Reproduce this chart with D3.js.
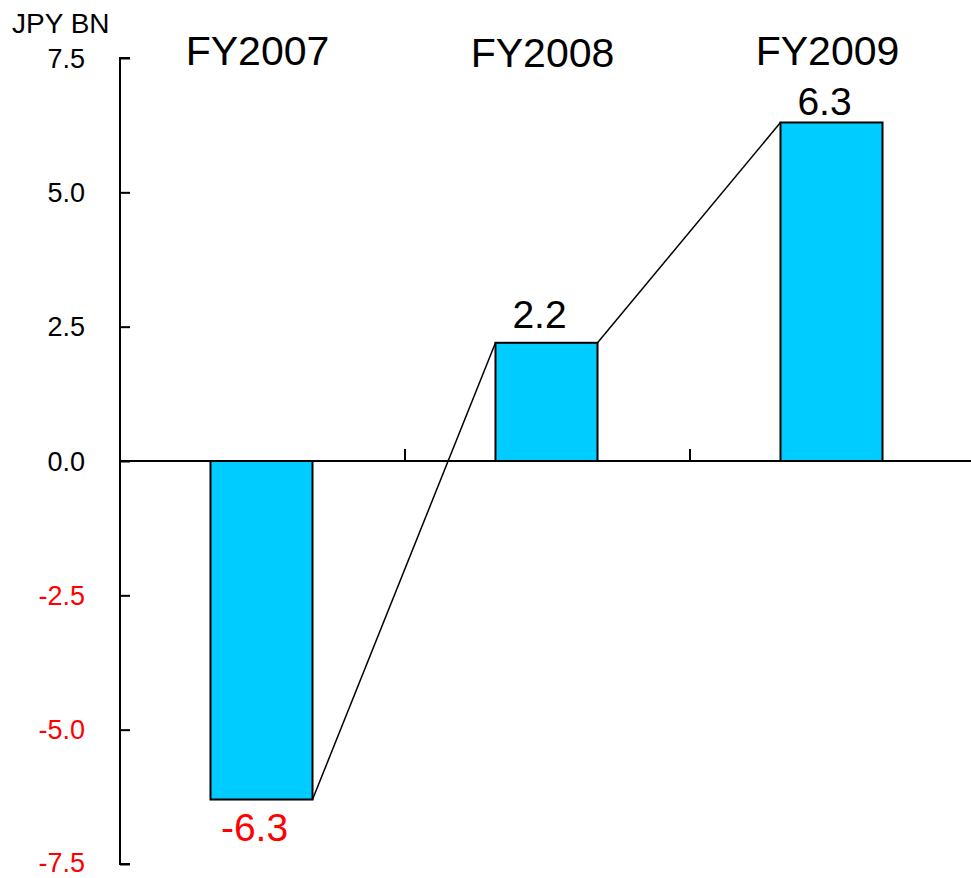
<!DOCTYPE html>
<html>
<head>
<meta charset="utf-8">
<script src="https://cdn.jsdelivr.net/npm/d3@7"></script>
<style>
  html, body { margin: 0; padding: 0; background: #fff; }
  svg { display: block; font-family: "Liberation Sans", Arial, sans-serif; }
</style>
</head>
<body>
<svg id="chart" width="971" height="878"></svg>
<script>
// Operating income by fiscal year (JPY billions)
const categories = ["FY2007", "FY2008", "FY2009"];
const values = [-6.3, 2.2, 6.3];
const yTicks = [-7.5, -5.0, -2.5, 0.0, 2.5, 5.0, 7.5];
const unitLabel = "JPY BN";

const svg = d3.select("#chart");
const W = 971, H = 878;
const axisX = 120;

// one decimal, plain hyphen for negatives
const fmt = v => d3.format(".1f")(v).replace("\u2212", "-");

const x = d3.scaleBand().domain(categories).range([axisX, 975]).padding(0);
const y = d3.scaleLinear().domain([-7.5, 7.5]).range([864, 58]);

const barW = x.bandwidth() * 0.358;
const barX = d => x(d.cat) + x.bandwidth() / 2 - barW / 2 - 1;

const data = categories.map((c, i) => ({ cat: c, v: values[i] }));

// Y axis: line with inward ticks
const yAxis = d3.axisRight(y).tickValues(yTicks).tickSize(10).tickFormat("");
const gy = svg.append("g").attr("transform", `translate(${axisX},0)`).call(yAxis);
gy.select(".domain").attr("stroke", "#000").attr("stroke-width", 2)
  .attr("d", `M10,${y(7.5)}H0V${y(-7.5)}H10`);
gy.selectAll(".tick line").attr("stroke", "#000").attr("stroke-width", 2);

// Y tick labels (negatives in red)
svg.append("g").selectAll("text").data(yTicks).join("text")
  .attr("x", 85)
  .attr("y", d => y(d) - (d === -7.5 ? 2 : 0))
  .attr("dy", "0.36em")
  .attr("text-anchor", "end")
  .attr("font-size", 27)
  .attr("fill", d => d < 0 ? "#ff0000" : "#000")
  .text(fmt);

// Unit label
svg.append("text")
  .attr("x", 12).attr("y", 33)
  .attr("font-size", 28)
  .attr("fill", "#000")
  .text(unitLabel);

// Bars
svg.append("g").selectAll("rect").data(data).join("rect")
  .attr("x", barX)
  .attr("y", d => y(Math.max(0, d.v)))
  .attr("width", barW)
  .attr("height", d => Math.abs(y(d.v) - y(0)))
  .attr("fill", "#00ccff")
  .attr("stroke", "#000")
  .attr("stroke-width", 2);

// Zero line with category separators
const gx = svg.append("g").attr("transform", `translate(0,${y(0)})`);
gx.append("path").attr("stroke", "#000").attr("stroke-width", 2)
  .attr("d", `M${axisX},0H${W}`);
gx.selectAll(".sep").data(categories.slice(1)).join("line")
  .attr("class", "sep")
  .attr("x1", d => x(d)).attr("x2", d => x(d))
  .attr("y1", 0).attr("y2", -12)
  .attr("stroke", "#000").attr("stroke-width", 2);

// Connector lines between consecutive bar tops
const links = d3.pairs(data);
svg.append("g").selectAll("line").data(links).join("line")
  .attr("x1", ([a]) => barX(a) + barW)
  .attr("y1", ([a]) => y(a.v))
  .attr("x2", ([, b]) => barX(b))
  .attr("y2", ([, b]) => y(b.v))
  .attr("stroke", "#000")
  .attr("stroke-width", 1.5);

// Category headers
const headerBase = [65, 67, 65];
svg.append("g").selectAll("text").data(data).join("text")
  .attr("x", d => x(d.cat) + x.bandwidth() / 2 - 5)
  .attr("y", (d, i) => headerBase[i])
  .attr("text-anchor", "middle")
  .attr("font-size", 41)
  .attr("fill", "#000")
  .text(d => d.cat);

// Value labels
svg.append("g").selectAll("text").data(data).join("text")
  .attr("x", d => barX(d) + barW / 2 - 7)
  .attr("y", d => d.v >= 0 ? y(d.v) - (d.v > 5 ? 7 : 15) : y(d.v) + 41)
  .attr("text-anchor", "middle")
  .attr("font-size", 39)
  .attr("fill", d => d.v < 0 ? "#ff0000" : "#000")
  .text(d => fmt(d.v));
</script>
</body>
</html>
